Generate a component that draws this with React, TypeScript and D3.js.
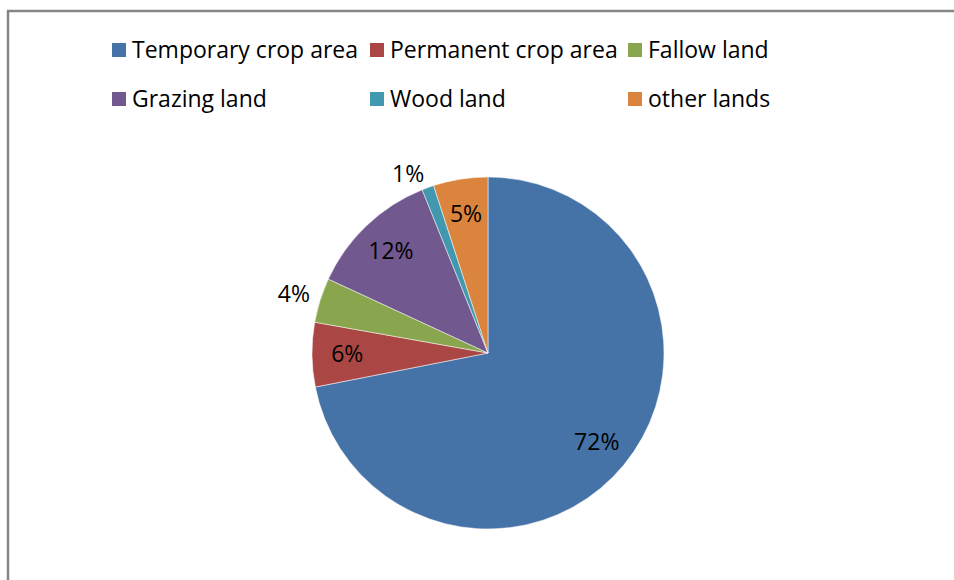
import React, { useEffect, useRef } from 'react';
import * as d3 from 'd3';

// land use categories (legend order = slice order, clockwise from 12 o'clock)
const categories = ['Temporary crop area', 'Permanent crop area', 'Fallow land', 'Grazing land', 'Wood land', 'other lands'];
const shares = [71.9, 5.9, 4.1, 12.0, 1.1, 5.0];
const sliceColors = ['#4572A7', '#AA4643', '#89A54E', '#71588F', '#4198AF', '#DB843D'];

const App = () => {
    const svgRef = useRef(null);

    useEffect(() => {
        const svg = d3.select(svgRef.current);
        svg.selectAll('*').remove();

        const width = 954;
        const height = 580;
        const font = '"Open Sans", "Noto Sans", sans-serif';

        // chart frame (only left and top edges fall inside the picture)
        svg.append('line')
            .attr('x1', 8).attr('y1', 10).attr('x2', 8).attr('y2', height)
            .attr('stroke', '#868686').attr('stroke-width', 2.5);
        svg.append('line')
            .attr('x1', 7).attr('y1', 11).attr('x2', width).attr('y2', 11)
            .attr('stroke', '#868686').attr('stroke-width', 2.5);

        // legend: 3 columns x 2 rows
        const colX = d3.scaleLinear().domain([0, 1]).range([112, 370]);
        const rowY = d3.scaleLinear().domain([0, 1]).range([50, 99]);
        const legend = svg.append('g');
        categories.forEach((name, i) => {
            const col = i % 3;
            const row = Math.floor(i / 3);
            const item = legend.append('g')
                .attr('transform', `translate(${colX(col)},${rowY(row)})`);
            item.append('rect')
                .attr('x', 0).attr('y', -7)
                .attr('width', 14).attr('height', 14)
                .attr('fill', sliceColors[i]);
            item.append('text')
                .attr('x', 20).attr('y', 0)
                .attr('dy', '0.35em')
                .attr('font-family', font)
                .attr('font-size', 23)
                .attr('fill', '#000')
                .text(name);
        });

        // pie
        const cx = 488;
        const cy = 353;
        const radius = 176;
        const pie = d3.pie<number>().sort(null).value(d => d);
        const arcs = pie(shares);
        const arc = d3.arc<d3.PieArcDatum<number>>().innerRadius(0).outerRadius(radius);

        const g = svg.append('g').attr('transform', `translate(${cx},${cy})`);
        g.selectAll('path')
            .data(arcs)
            .join('path')
            .attr('d', arc)
            .attr('fill', (d, i) => sliceColors[i])
            .attr('stroke', '#ffffff')
            .attr('stroke-width', 0.5);

        // data labels: small slices go outside, anchored by their near edge
        const inner = d3.arc<d3.PieArcDatum<number>>().innerRadius(radius * 0.8).outerRadius(radius * 0.8);
        const outer = d3.arc<d3.PieArcDatum<number>>().innerRadius(radius * 1.06).outerRadius(radius * 1.06);
        const isOutside = (d: d3.PieArcDatum<number>) => d.value < 4.5;
        g.selectAll('text.lbl')
            .data(arcs)
            .join('text')
            .attr('class', 'lbl')
            .attr('transform', d => {
                const [x, y] = isOutside(d) ? outer.centroid(d) : inner.centroid(d);
                return `translate(${x},${y})`;
            })
            .attr('text-anchor', d => {
                if (!isOutside(d)) return 'middle';
                const mid = (d.startAngle + d.endAngle) / 2;
                return Math.sin(mid) < 0 ? 'end' : 'start';
            })
            .attr('dy', d => isOutside(d) ? '0.2em' : '0.35em')
            .attr('font-family', font)
            .attr('font-size', 23)
            .attr('fill', '#000')
            .text(d => `${Math.round(d.value)}%`);
    }, []);

    return (
        <svg ref={svgRef} width={954} height={580}
             style={{ position: 'absolute', left: 0, top: 0, background: '#fff' }}/>
    );
};

export default App;
